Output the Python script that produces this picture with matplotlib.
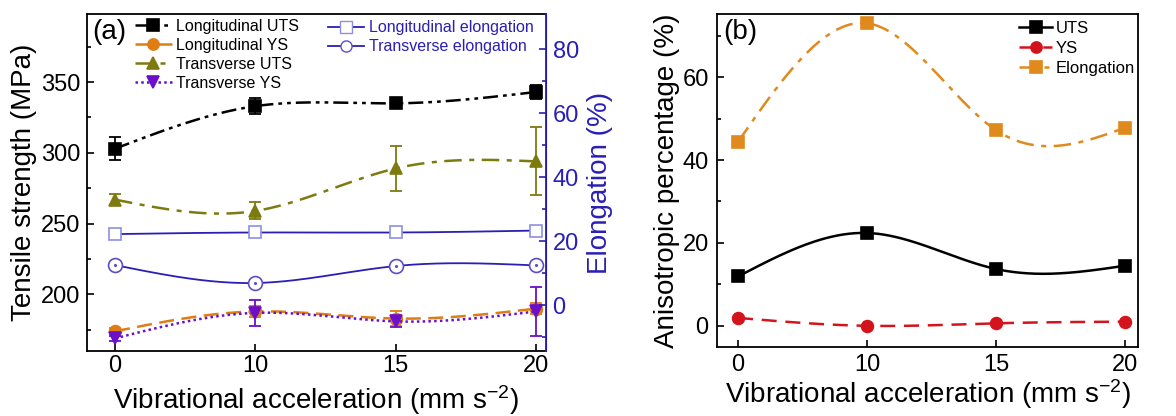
import numpy as np
import matplotlib
matplotlib.use('Agg')
import matplotlib.pyplot as plt
from matplotlib.ticker import MultipleLocator, FixedLocator

plt.rcParams['font.family'] = ['Liberation Sans', 'DejaVu Sans']
plt.rcParams['mathtext.fontset'] = 'custom'
plt.rcParams['mathtext.rm'] = 'Liberation Sans'
plt.rcParams['mathtext.default'] = 'regular'

# ---- data ----
accel = ['0', '10', '15', '20']

long_uts = [303, 333, 335, 343]
long_uts_err = [8, 5.5, 2, 5]
long_ys = [174, 188, 183, 190]
long_ys_err = [2, 4, 5, 4]
trans_uts = [267, 259, 289, 294]
trans_uts_err = [4, 6, 16, 24]
trans_ys = [169, 187, 181, 188]
trans_ys_err = [2, 9, 4, 17]

long_elong = [22.2, 22.7, 22.7, 23.3]
trans_elong = [12.5, 6.9, 12.2, 12.4]

aniso_uts = [11.9, 22.4, 13.7, 14.5]
aniso_ys = [1.9, 0.0, 0.6, 1.0]
aniso_elong = [44.4, 73.0, 47.2, 47.8]


def spline(x, y, n=200):
    # natural cubic spline, only used to draw the smooth connecting line
    x = np.asarray(x, float)
    y = np.asarray(y, float)
    k = len(x)
    h = np.diff(x)
    A = np.zeros((k, k))
    b = np.zeros(k)
    A[0, 0] = 1
    A[-1, -1] = 1
    for i in range(1, k - 1):
        A[i, i - 1] = h[i - 1]
        A[i, i] = 2 * (h[i - 1] + h[i])
        A[i, i + 1] = h[i]
        b[i] = 6 * ((y[i + 1] - y[i]) / h[i] - (y[i] - y[i - 1]) / h[i - 1])
    M = np.linalg.solve(A, b)
    xs = np.linspace(x[0], x[-1], n)
    idx = np.clip(np.searchsorted(x, xs) - 1, 0, k - 2)
    x0, x1 = x[idx], x[idx + 1]
    hh = x1 - x0
    ys = (M[idx] * (x1 - xs) ** 3 / (6 * hh) + M[idx + 1] * (xs - x0) ** 3 / (6 * hh)
          + (y[idx] / hh - M[idx] * hh / 6) * (x1 - xs)
          + (y[idx + 1] / hh - M[idx + 1] * hh / 6) * (xs - x0))
    return xs, ys


pos = np.arange(len(accel))
BLUE = '#2a1fb5'
ORANGE = '#df7d12'
OLIVE = '#7d7a10'
PURPLE = '#6c0fc8'
BLACK = '#000000'
RED = '#d4141c'
ORANGE_B = '#e08a1e'

fig = plt.figure(figsize=(11.76, 4.16), dpi=100)
ax = fig.add_axes([0.074, 0.156, 0.39, 0.810])
ax2 = ax.twinx()
bx = fig.add_axes([0.6097, 0.166, 0.358, 0.800])

tick_fs = 17
label_fs = 20


def series(a, y, err, color, ls, marker, label, mfc=None, lw=1.8, ms=8.5):
    xs, ys = spline(pos, y)
    a.plot(xs, ys, color=color, ls=ls, lw=lw)
    if err is not None:
        a.errorbar(pos, y, yerr=err, fmt='none', ecolor=color, elinewidth=1.3,
                   capsize=4, capthick=1.3)
    a.plot(pos, y, ls='none', marker=marker, color=color, ms=ms,
           mfc=mfc if mfc else color, mew=1.2)
    h, = a.plot([], [], color=color, ls=ls, lw=lw, marker=marker, ms=8,
                mfc=mfc if mfc else color, mew=1.2)
    h.set_label(label)
    return h


h1 = series(ax, long_uts, long_uts_err, BLACK, (0, (6, 2, 1.5, 2, 1.5, 2)), 's', 'Longitudinal UTS')
h2 = series(ax, long_ys, long_ys_err, ORANGE, (0, (6, 3)), 'o', 'Longitudinal YS')
h3 = series(ax, trans_uts, trans_uts_err, OLIVE, (0, (7, 3, 2, 3)), '^', 'Transverse UTS')
h4 = series(ax, trans_ys, trans_ys_err, PURPLE, (0, (1, 1.3)), 'v', 'Transverse YS')

# elongation on the right axis
xs, ys = spline(pos, long_elong)
ax2.plot(xs, ys, color=BLUE, lw=1.3)
ax2.plot(pos, long_elong, ls='none', marker='s', ms=9, mfc='white', mec='#8f8fe0', mew=1.2)
xs, ys = spline(pos, trans_elong)
ax2.plot(xs, ys, color=BLUE, lw=1.3)
ax2.plot(pos, trans_elong, ls='none', marker='o', ms=10, mfc='white', mec='#5b4fc8', mew=1.2)
ax2.plot(pos, trans_elong, ls='none', marker='.', ms=2.5, color='#5b4fc8')
h5, = ax2.plot([], [], color=BLUE, lw=1.3, marker='s', ms=8, mfc='white', mec='#8f8fe0',
               label='Longitudinal elongation')
h6, = ax2.plot([], [], color=BLUE, lw=1.3, marker='o', ms=8, mfc='white', mec='#5b4fc8',
               label='Transverse elongation')

ax.set_xlim(-0.2, 3.07)
ax.set_ylim(160, 398)
ax.set_xticks(pos)
ax.set_xticklabels(accel)
ax.yaxis.set_major_locator(FixedLocator([200, 250, 300, 350]))
ax.yaxis.set_minor_locator(FixedLocator([175, 225, 275, 325, 375]))
ax.tick_params(axis='both', which='both', direction='in')
ax.tick_params(axis='y', which='major', labelsize=tick_fs, length=5, width=1.2, pad=5)
ax.tick_params(axis='x', which='major', labelsize=tick_fs, length=5, width=1.2, pad=3)
ax.tick_params(axis='y', which='minor', length=3, width=1.2)
ax.set_xlabel('Vibrational acceleration (mm s$^{-2}$)', fontsize=label_fs, labelpad=4)
ax.set_ylabel('Tensile strength (MPa)', fontsize=label_fs, labelpad=3)

ax2.set_ylim(-14.4, 91)
ax2.yaxis.set_major_locator(FixedLocator([0, 20, 40, 60, 80]))
ax2.yaxis.set_minor_locator(FixedLocator([-10, 10, 30, 50, 70]))
ax2.tick_params(axis='y', which='both', direction='in')
ax2.tick_params(axis='y', which='major', labelsize=tick_fs, length=5, width=1.2,
                colors=BLUE, pad=5)
ax2.tick_params(axis='y', which='minor', length=3, width=1.2, colors=BLUE)
ax2.set_ylabel('Elongation (%)', fontsize=label_fs, color=BLUE, labelpad=6)
ax2.spines['right'].set_color(BLUE)
for s in ['left', 'top', 'bottom']:
    ax.spines[s].set_linewidth(1.3)
ax2.spines['right'].set_linewidth(1.3)
for s in ['left', 'top', 'bottom']:
    ax2.spines[s].set_visible(False)

ax.text(0.012, 0.985, '(a)', transform=ax.transAxes, fontsize=label_fs, va='top')
ax.legend(handles=[h1, h2, h3, h4], loc='upper left', bbox_to_anchor=(0.08, 1.02),
          frameon=False, fontsize=11.5, handlelength=2.3, handletextpad=0.3,
          labelspacing=0.25, borderpad=0.2)
ax2.legend(handles=[h5, h6], loc='upper left', bbox_to_anchor=(0.5, 1.015),
           frameon=False, fontsize=11.5, handlelength=2.3, handletextpad=0.3,
           labelspacing=0.25, borderpad=0.2, labelcolor=BLUE)

# ---- panel (b) ----
g1 = series(bx, aniso_uts, None, BLACK, '-', 's', 'UTS')
g2 = series(bx, aniso_ys, None, RED, (0, (6, 3.5)), 'o', 'YS')
g3 = series(bx, aniso_elong, None, ORANGE_B, (0, (7, 3, 2, 3)), 's', 'Elongation')
bx.set_xlim(-0.163, 3.1)
bx.set_ylim(-5.1, 75.2)
bx.set_xticks(pos)
bx.set_xticklabels(accel)
bx.yaxis.set_major_locator(MultipleLocator(20))
bx.yaxis.set_minor_locator(FixedLocator([10, 30, 50, 70]))
bx.tick_params(axis='both', which='both', direction='in')
bx.tick_params(axis='y', which='major', labelsize=tick_fs, length=5, width=1.2, pad=6)
bx.tick_params(axis='x', which='major', labelsize=tick_fs, length=5, width=1.2, pad=5)
bx.tick_params(axis='y', which='minor', length=3, width=1.2)
for s in bx.spines.values():
    s.set_linewidth(1.3)
bx.set_xlabel('Vibrational acceleration (mm s$^{-2}$)', fontsize=label_fs, labelpad=1)
bx.set_ylabel('Anisotropic percentage (%)', fontsize=label_fs, labelpad=2)
bx.text(0.015, 0.985, '(b)', transform=bx.transAxes, fontsize=label_fs, va='top')
bx.legend(handles=[g1, g2, g3], loc='upper right', bbox_to_anchor=(1.02, 1.015),
          frameon=False, fontsize=12, handlelength=2.0, handletextpad=0.2,
          labelspacing=0.3, borderpad=0.2)

fig.savefig('out.png', dpi=100)
